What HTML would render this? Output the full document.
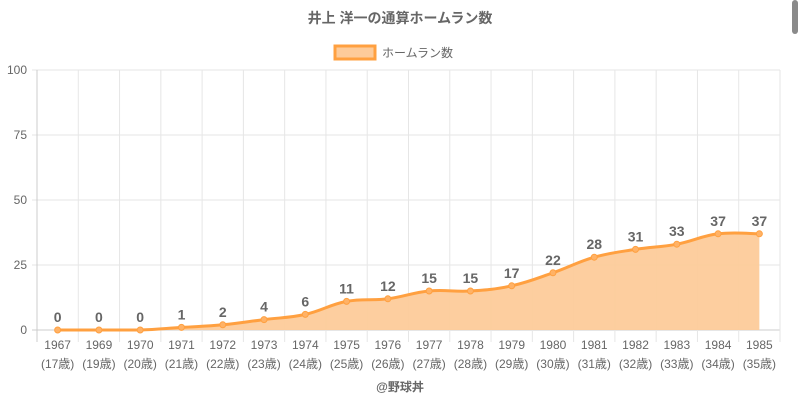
<!DOCTYPE html>
<html><head><meta charset="utf-8"><style>
html,body{margin:0;padding:0;background:#fff;width:800px;height:400px;overflow:hidden}
svg{display:block;font-family:"Liberation Sans","Noto Sans CJK JP",sans-serif}
</style></head><body>
<svg id="s" width="800" height="400" xmlns="http://www.w3.org/2000/svg">
<rect x="792" y="0" width="6" height="34" rx="3" fill="#8a8a8a"/>
<text x="400" y="23" text-anchor="middle" font-size="14" font-weight="bold" fill="#666">井上 洋一の通算ホームラン数</text>
<rect x="335" y="46" width="40" height="13" fill="#fdcb9a" stroke="#ffa040" stroke-width="3"/>
<text x="382" y="57" font-size="12" fill="#666">ホームラン数</text>
<g id="g"></g>
<text x="400" y="391" text-anchor="middle" font-size="12" font-weight="bold" fill="#666">@野球丼</text>
</svg>
<script>
var v=[0,0,0,1,2,4,6,11,12,15,15,17,22,28,31,33,37,37];
var yr=[1967,1969,1970,1971,1972,1973,1974,1975,1976,1977,1978,1979,1980,1981,1982,1983,1984,1985];
var age=[17,19,20,21,22,23,24,25,26,27,28,29,30,31,32,33,34,35];
var L=37,R=780,T=70,B=330,n=18,w=(R-L)/n;
var X=i=>L+w*(i+.5),Y=x=>B-(B-T)*x/100;
var h='';
for(var k=0;k<=4;k++){var y=Y(k*25);h+='<line x1="'+(L-5)+'" x2="'+R+'" y1="'+y+'" y2="'+y+'" stroke="'+(k==0?'#ccc':'#e6e6e6')+'"/>';
h+='<text x="'+(L-10)+'" y="'+(y+4)+'" text-anchor="end" font-size="12" fill="#666">'+k*25+'</text>';}
for(var i=0;i<=n;i++){var x=L+w*i;h+='<line x1="'+x+'" x2="'+x+'" y1="'+T+'" y2="'+(B+12)+'" stroke="'+(i==0?'#ccc':'#e6e6e6')+'"/>';}
var p=v.map((a,i)=>[X(i),Y(a)]);
var d='M'+p[0][0]+','+p[0][1];
for(var i=0;i<n-1;i++){var p0=p[Math.max(0,i-1)],p1=p[i],p2=p[i+1],p3=p[Math.min(n-1,i+2)],t=0.2;
var c1=[p1[0]+(p2[0]-p0[0])*t,p1[1]+(p2[1]-p0[1])*t],c2=[p2[0]-(p3[0]-p1[0])*t,p2[1]-(p3[1]-p1[1])*t];
c1[1]=Math.min(c1[1],B);c2[1]=Math.min(c2[1],B);
d+=' C'+c1+' '+c2+' '+p2;}
h+='<path d="'+d+' L'+p[n-1][0]+','+B+' L'+p[0][0]+','+B+'Z" fill="#fdcb9a" opacity="0.95"/>';
h+='<path d="'+d+'" fill="none" stroke="#ffa040" stroke-width="3"/>';
p.forEach((q,i)=>{h+='<circle cx="'+q[0]+'" cy="'+q[1]+'" r="3" fill="#ffb266" stroke="#ffa040"/>';
h+='<text x="'+q[0]+'" y="'+(q[1]-8)+'" text-anchor="middle" font-size="14" font-weight="bold" fill="#666">'+v[i]+'</text>';
h+='<text x="'+q[0]+'" y="349" text-anchor="middle" font-size="12" fill="#666">'+yr[i]+'</text>';
h+='<text x="'+q[0]+'" y="368" text-anchor="middle" font-size="12" fill="#666">('+age[i]+'歳)</text>';});
document.getElementById('g').innerHTML=h;
</script>
</body></html>
